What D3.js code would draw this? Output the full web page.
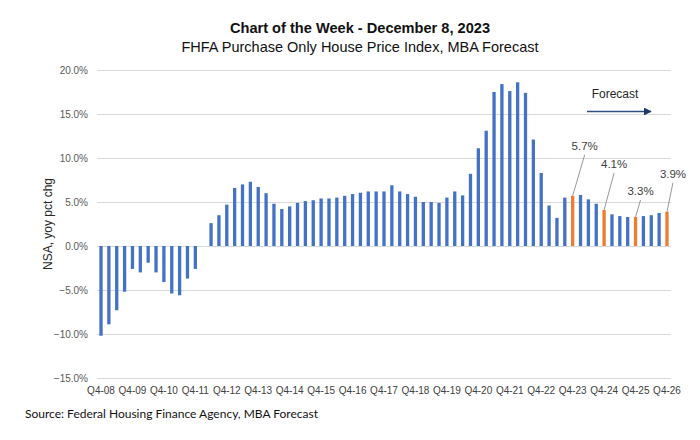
<!DOCTYPE html>
<html>
<head>
<meta charset="utf-8">
<script src="https://cdn.jsdelivr.net/npm/d3@7"></script>
<style>
  html, body { margin: 0; padding: 0; background: #fff; }
  svg { display: block; }
</style>
</head>
<body>
<svg id="chart" width="700" height="440"></svg>
<script>
const quarters = [
  "Q4-08",
  "Q1-09","Q2-09","Q3-09","Q4-09",
  "Q1-10","Q2-10","Q3-10","Q4-10",
  "Q1-11","Q2-11","Q3-11","Q4-11",
  "Q1-12","Q2-12","Q3-12","Q4-12",
  "Q1-13","Q2-13","Q3-13","Q4-13",
  "Q1-14","Q2-14","Q3-14","Q4-14",
  "Q1-15","Q2-15","Q3-15","Q4-15",
  "Q1-16","Q2-16","Q3-16","Q4-16",
  "Q1-17","Q2-17","Q3-17","Q4-17",
  "Q1-18","Q2-18","Q3-18","Q4-18",
  "Q1-19","Q2-19","Q3-19","Q4-19",
  "Q1-20","Q2-20","Q3-20","Q4-20",
  "Q1-21","Q2-21","Q3-21","Q4-21",
  "Q1-22","Q2-22","Q3-22","Q4-22",
  "Q1-23","Q2-23","Q3-23","Q4-23",
  "Q1-24","Q2-24","Q3-24","Q4-24",
  "Q1-25","Q2-25","Q3-25","Q4-25",
  "Q1-26","Q2-26","Q3-26","Q4-26"
];
const values = [
  -10.2,
  -8.9, -7.3, -5.2, -2.6,
  -3.0, -1.9, -3.0, -4.1,
  -5.4, -5.6, -3.7, -2.6,
  0.0, 2.6, 3.5, 4.7,
  6.6, 7.0, 7.3, 6.7,
  6.0, 4.8, 4.2, 4.5,
  4.9, 5.1, 5.2, 5.4,
  5.4, 5.5, 5.7, 5.9,
  6.05, 6.2, 6.2, 6.2,
  6.9, 6.2, 5.9, 5.6,
  5.0, 5.0, 4.9, 5.5,
  6.2, 5.75, 8.2, 11.1,
  13.1, 17.5, 18.4, 17.6,
  18.6, 17.4, 12.1, 8.3,
  4.6, 3.2, 5.5, 5.7,
  5.8, 5.3, 4.8, 4.1,
  3.6, 3.4, 3.3, 3.3,
  3.4, 3.5, 3.75, 3.9
];
const highlighted = ["Q4-23", "Q4-24", "Q4-25", "Q4-26"];
const annotationQuarters = ["Q4-23", "Q4-24", "Q4-25", "Q4-26"];
const annotationTexts = ["5.7%", "4.1%", "3.3%", "3.9%"];
const annotationDx = [12, 10, 5, 6];
const annotationDy = [-46, -42, -22, -34];
const yTicks = [-15, -10, -5, 0, 5, 10, 15, 20];
const xTickLabels = ["Q4-08","Q4-09","Q4-10","Q4-11","Q4-12","Q4-13","Q4-14","Q4-15","Q4-16","Q4-17","Q4-18","Q4-19","Q4-20","Q4-21","Q4-22","Q4-23","Q4-24","Q4-25","Q4-26"];

const titleText = "Chart of the Week - December 8, 2023";
const subtitleText = "FHFA Purchase Only House Price Index, MBA Forecast";
const yAxisTitle = "NSA, yoy pct chg";
const sourceText = "Source: Federal Housing Finance Agency, MBA Forecast";
const forecastText = "Forecast";

(function () {
const svg = d3.select("#chart");
const pLeft = 97, pRight = 671, pTop = 70, pBottom = 378;

const x = d3.scaleBand().domain(quarters).range([pLeft, pRight]).paddingInner(0.58).paddingOuter(0.3);
const y = d3.scaleLinear().domain([-15, 20]).range([pBottom, pTop]);

// gridlines
svg.append("g").selectAll("line").data(yTicks).join("line")
  .attr("x1", pLeft).attr("x2", pRight)
  .attr("y1", d => Math.round(y(d)) + 0.5).attr("y2", d => Math.round(y(d)) + 0.5)
  .attr("stroke", "#d9d9d9").attr("stroke-width", 1);

// y axis labels
const yAxis = d3.axisLeft(y).tickValues(yTicks).tickSize(0).tickPadding(0)
  .tickFormat(d => d3.format(".1f")(d) + "%");
const yg = svg.append("g").attr("transform", `translate(${pLeft - 9},0)`).call(yAxis);
yg.select(".domain").remove();
yg.selectAll("text").attr("font-family", "Liberation Sans, Arial, sans-serif")
  .attr("font-size", 10).attr("fill", "#595959");

// bars
const data = quarters.map((q, i) => ({ q, v: values[i] }));
svg.append("g").selectAll("rect").data(data).join("rect")
  .attr("x", d => x(d.q))
  .attr("width", x.bandwidth())
  .attr("y", d => y(Math.max(0, d.v)))
  .attr("height", d => Math.abs(y(d.v) - y(0)))
  .attr("fill", d => highlighted.includes(d.q) ? "#ED7D31" : "#4472C4");

// x axis labels
const xAxis = d3.axisBottom(x).tickValues(xTickLabels).tickSize(0).tickPadding(0);
const xg = svg.append("g").attr("transform", `translate(0,${pBottom + 9})`).call(xAxis);
xg.select(".domain").remove();
xg.selectAll("text").attr("font-family", "Liberation Sans, Arial, sans-serif")
  .attr("font-size", 10).attr("fill", "#404040");

// annotations
annotationQuarters.forEach((q, i) => {
  const v = values[quarters.indexOf(q)];
  const bx = x(q) + x.bandwidth() / 2;
  const by = y(v);
  const lx = bx + annotationDx[i];
  const ly = by + annotationDy[i];
  svg.append("line").attr("x1", bx).attr("y1", by).attr("x2", lx).attr("y2", ly + 5)
    .attr("stroke", "#8c8c8c").attr("stroke-width", 0.9);
  svg.append("text").attr("x", lx).attr("y", ly)
    .attr("text-anchor", "middle")
    .attr("font-family", "Liberation Sans, Arial, sans-serif")
    .attr("font-size", 11.5).attr("fill", "#404040").text(annotationTexts[i]);
});

// forecast arrow
svg.append("defs").append("marker").attr("id", "arr")
  .attr("viewBox", "0 0 10 10").attr("refX", 9).attr("refY", 5)
  .attr("markerWidth", 6).attr("markerHeight", 6).attr("orient", "auto")
  .append("path").attr("d", "M0,0 L10,5 L0,10 z").attr("fill", "#1f3864");
svg.append("line").attr("x1", 587).attr("x2", 651).attr("y1", 111.5).attr("y2", 111.5)
  .attr("stroke", "#2f4f80").attr("stroke-width", 1.3).attr("marker-end", "url(#arr)");
svg.append("text").attr("x", 615).attr("y", 98).attr("text-anchor", "middle")
  .attr("font-family", "Liberation Sans, Arial, sans-serif")
  .attr("font-size", 12).attr("fill", "#262626").text(forecastText);

// titles
svg.append("text").attr("x", 360).attr("y", 33).attr("text-anchor", "middle")
  .attr("font-family", "Liberation Sans, Arial, sans-serif").attr("font-weight", "bold")
  .attr("font-size", 14.6).attr("fill", "#111").text(titleText);
svg.append("text").attr("x", 360).attr("y", 52).attr("text-anchor", "middle")
  .attr("font-family", "Liberation Sans, Arial, sans-serif")
  .attr("font-size", 14.5).attr("fill", "#111").text(subtitleText);

// y title
svg.append("text").attr("transform", "translate(52,224) rotate(-90)")
  .attr("text-anchor", "middle")
  .attr("font-family", "Liberation Sans, Arial, sans-serif")
  .attr("font-size", 12).attr("fill", "#262626").text(yAxisTitle);

// source
svg.append("text").attr("x", 25).attr("y", 418)
  .attr("font-family", "Lato, Open Sans, sans-serif")
  .attr("font-size", 12).attr("fill", "#111").text(sourceText);
})();
</script>
</body>
</html>
